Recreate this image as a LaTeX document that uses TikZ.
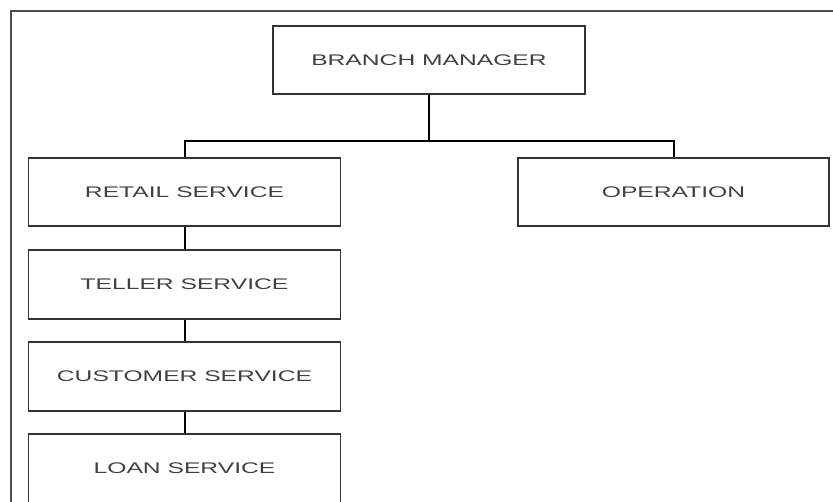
\documentclass[tikz,border=0pt]{standalone}
\usepackage{fontspec}
\usepackage{graphicx}
\setmainfont{Liberation Sans}
\newcommand{\widetext}[1]{\scalebox{1.6}[1]{#1}}
\tikzset{
  unitbox/.style={draw=black!80, line width=1.2pt, minimum width=312pt, minimum height=68pt,
    inner sep=0pt, text=black!75, font=\fontsize{15.4}{18}\selectfont},
  link/.style={draw=black, line width=2pt}
}
\begin{document}
\begin{tikzpicture}[x=1pt,y=-1pt]
\useasboundingbox (0,0) rectangle (833,502);
\draw[black!70, line width=1.8pt] (11,502) -- (11,11) -- (833,11);
\node[unitbox] (bm) at (429,60) {\widetext{BRANCH MANAGER}};
\node[unitbox] (retail) at (184.5,192) {\widetext{RETAIL SERVICE}};
\node[unitbox, minimum width=311pt] (oper) at (673.5,192) {\widetext{OPERATION}};
\node[unitbox, minimum height=69pt] (teller) at (184.5,284.5) {\widetext{TELLER SERVICE}};
\node[unitbox, minimum height=69pt] (cust) at (184.5,376.5) {\widetext{CUSTOMER SERVICE}};
\node[unitbox, minimum height=69pt] (loan) at (184.5,468.5) {\widetext{LOAN SERVICE}};
\coordinate (bus) at (429,141);
\draw[link] (bm.south) -- (bus);
\draw[link] (retail.north) |- (bus) -| (oper.north);
\draw[link] (retail) -- (teller);
\draw[link] (teller) -- (cust);
\draw[link] (cust) -- (loan);
\end{tikzpicture}
\end{document}
